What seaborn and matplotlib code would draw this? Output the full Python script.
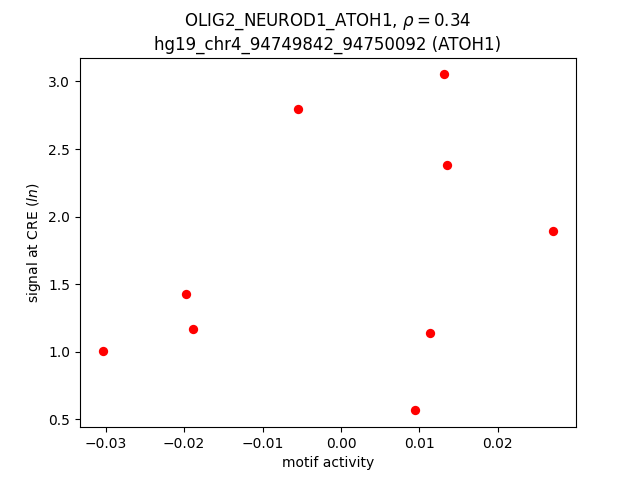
import matplotlib
matplotlib.use("Agg")
import matplotlib.pyplot as plt
import seaborn as sns
import pandas as pd

motif_activity = [-0.0304, -0.0197, -0.0189, -0.0055, 0.0131, 0.0135, 0.0113, 0.0094, 0.0271]
signal = [1.003, 1.425, 1.166, 2.793, 3.052, 2.379, 1.136, 0.567, 1.891]

df = pd.DataFrame({"x": motif_activity, "y": signal})

fig, ax = plt.subplots(figsize=(6.4, 4.8), dpi=100)
sns.scatterplot(data=df, x="x", y="y", color="red", s=45, linewidth=0, ax=ax)
ax.set_xlabel("motif activity")
ax.set_ylabel("signal at CRE ($ln$)")
ax.set_title("OLIG2_NEUROD1_ATOH1, $\\rho = 0.34$\nhg19_chr4_94749842_94750092 (ATOH1)")
fig.savefig("out.png", dpi=100)
